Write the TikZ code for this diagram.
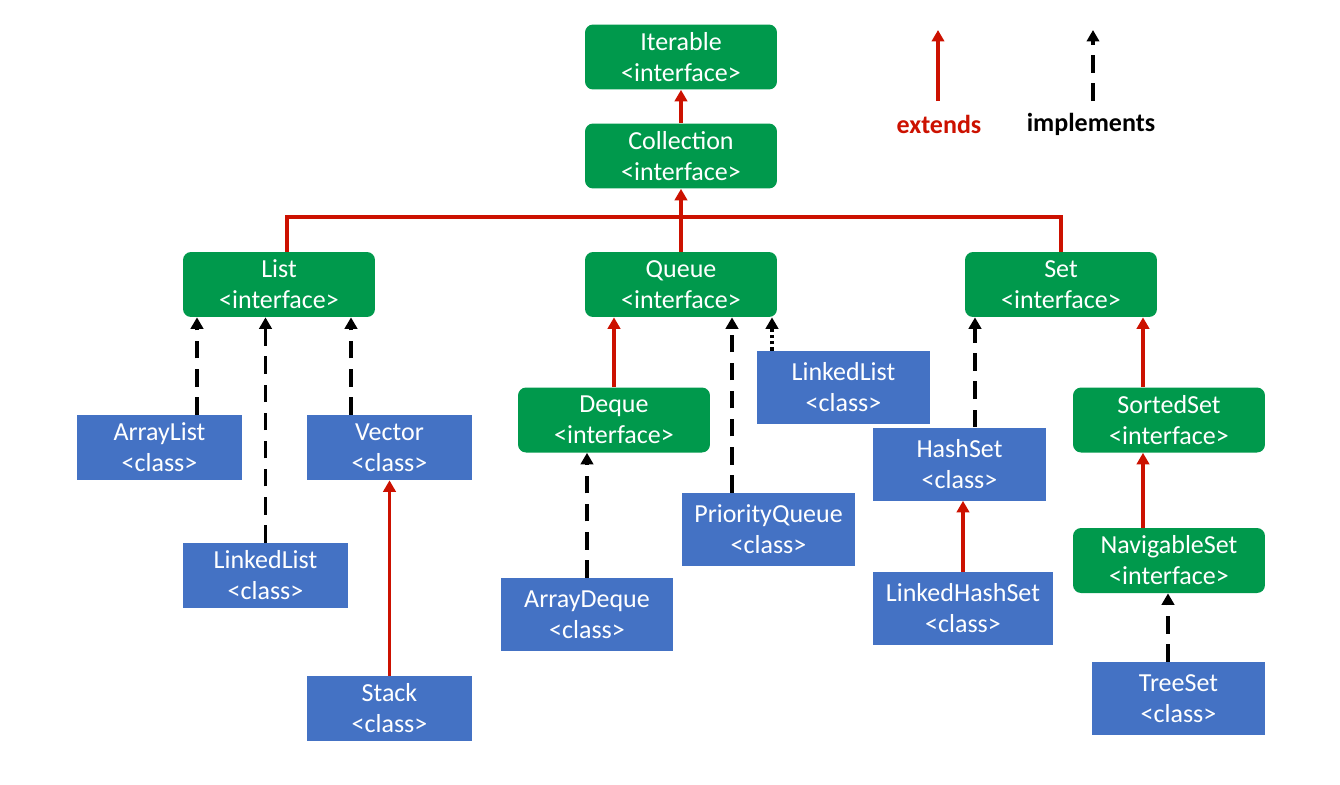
\documentclass[tikz,border=0pt]{standalone}
\usepackage{fontspec}
\setmainfont{Carlito}
\usetikzlibrary{arrows.meta,calc}
\definecolor{ifgreen}{RGB}{0,153,76}
\definecolor{clblue}{RGB}{68,114,196}
\definecolor{extred}{RGB}{204,17,0}
\tikzset{
  box/.style={text=white, align=center, inner sep=0pt,
    font=\fontsize{14.8pt}{17.6pt}\selectfont},
  iface/.style={box, fill=ifgreen, rounded corners=0.16cm,
    minimum width=3.84cm, minimum height=1.3cm},
  cls/.style={box, fill=clblue, minimum width=3.3cm, minimum height=1.3cm},
  wide/.style={minimum width=3.46cm, minimum height=1.46cm},
  ext/.style={draw=extred, line width=2pt,
    -{Triangle[width=7pt,length=6.5pt]}},
  extline/.style={draw=extred, line width=2pt},
  impl/.style={draw=black, line width=2.2pt, dash pattern=on 10pt off 6pt,
    -{Triangle[width=7pt,length=6.5pt]}},
  dotimpl/.style={impl, dash pattern=on 1.8pt off 1.8pt},
  legend/.style={font=\fontsize{14.8pt}{17.6pt}\selectfont\bfseries}
}
\begin{document}
\begin{tikzpicture}[x=0.02cm, y=-0.02cm]
  \useasboundingbox (0,0) rectangle (1340,785);
  % interfaces
  \node[iface] (iterable) at (681,57) {Iterable\\<interface>};
  \node[iface] (collection) at (681,156) {Collection\\<interface>};
  \node[iface] (list) at (279,284.5) {List\\<interface>};
  \node[iface] (queue) at (681,284.5) {Queue\\<interface>};
  \node[iface] (set) at (1061,284.5) {Set\\<interface>};
  \node[iface] (deque) at (614,420) {Deque\\<interface>};
  \node[iface] (sortedset) at (1169,420) {SortedSet\\<interface>};
  \node[iface] (navset) at (1169,560.5) {NavigableSet\\<interface>};
  % classes
  \node[cls] (arraylist) at (159.5,447.5) {ArrayList\\<class>};
  \node[cls] (vector) at (389.5,447.5) {Vector\\<class>};
  \node[cls] (llist) at (265.5,575.5) {LinkedList\\<class>};
  \node[cls] (stack) at (389.5,708.5) {Stack\\<class>};
  \node[cls, wide] (qlist) at (843.5,387.5) {LinkedList\\<class>};
  \node[cls, wide] (prioqueue) at (768.5,529.5) {PriorityQueue\\<class>};
  \node[cls, wide] (arraydeque) at (587,614.5) {ArrayDeque\\<class>};
  \node[cls, wide] (hashset) at (959.5,464) {HashSet\\<class>};
  \node[cls, wide, minimum width=3.6cm] (lhashset) at (963,608.5) {LinkedHashSet\\<class>};
  \node[cls, wide] (treeset) at (1178.5,698.5) {TreeSet\\<class>};
  % extends
  \coordinate (bar) at (681,217);
  \draw[ext] (collection) -- (iterable);
  \draw[ext] (queue) -- (collection);
  \draw[extline] ($(list.north)+(8,0)$) coordinate (l) -- (l |- bar)
    -- (set.north |- bar) -- (set.north);
  \draw[ext] (stack) -- (vector);
  \draw[ext] (deque) -- (deque |- queue.south);
  \draw[ext] (lhashset) -- (lhashset |- hashset.south);
  \draw[ext] ($(sortedset.north)+(-26,0)$) coordinate (s) -- (s |- set.south);
  \draw[ext] ($(navset.north)+(-26,0)$) coordinate (n) -- (n |- sortedset.south);
  % implements
  \draw[impl] ($(arraylist.north)+(37.5,0)$) coordinate (a) -- (a |- list.south);
  \draw[impl] (llist) -- (llist |- list.south);
  \draw[impl] ($(vector.north)+(-38.5,0)$) coordinate (v) -- (v |- list.south);
  \draw[impl] ($(prioqueue.north)+(-36.5,0)$) coordinate (p) -- (p |- queue.south);
  \draw[dotimpl] ($(qlist.north)+(-71.5,0)$) coordinate (q) -- (q |- queue.south);
  \draw[impl] (arraydeque) -- (arraydeque |- deque.south);
  \draw[impl] ($(hashset.north)+(15.5,0)$) coordinate (h) -- (h |- set.south);
  \draw[impl] ($(treeset.north)+(-10.5,0)$) coordinate (t) -- (t |- navset.south);
  % legend
  \coordinate (exttail) at (938,101);
  \coordinate (exthead) at (938,30);
  \coordinate (impltail) at (1093,101);
  \coordinate (implhead) at (1093,30);
  \draw[ext] (exttail) -- (exthead);
  \draw[impl] (impltail) -- (implhead);
  \node[legend, text=extred] (extlabel) at (939,124) {extends};
  \node[legend] (impllabel) at (1091,124) {implements};
\end{tikzpicture}
\end{document}
